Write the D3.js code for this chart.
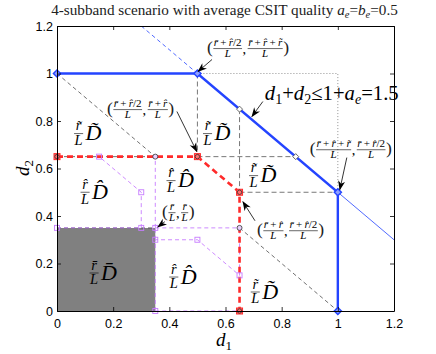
<!DOCTYPE html>
<html><head><meta charset="utf-8">
<script src="https://cdn.jsdelivr.net/npm/d3@7"></script>
<style>body{margin:0;background:#fff}svg{display:block}</style>
</head><body>
<svg id="c" width="436" height="354"></svg>
<script>
// ---------- data ----------
const xTicks = [0, 0.2, 0.4, 0.6, 0.8, 1, 1.2];
const yTicks = [0, 0.2, 0.4, 0.6, 0.8, 1, 1.2];
const tickLabels = ["0", "0.2", "0.4", "0.6", "0.8", "1", "1.2"];
const domainMax = 1.2;

const blueBoundary = [[0, 1], [0.5, 1], [1, 0.5], [1, 0]];
const blueExtUpper = [[0.3, 1.2], [0.5, 1]];
const blueExtLower = [[1, 0.5], [1.2, 0.3]];
const redBoundary = [[0, 0.65], [0.5, 0.65], [0.65, 0.5], [0.65, 0]];
const grayRegion = [[0, 0], [0.35, 0], [0.35, 0.35], [0, 0.35]];
const blackDashed = [
  [[0, 1], [0.35, 0.65]],
  [[0.65, 0.35], [1, 0]],
  [[0, 0.35], [0.35, 0.35]],
  [[0, 0.65], [0.35, 0.65]]
];
const grayDashed = [
  [[0.5, 1], [0.5, 0.65]],
  [[0.5, 0.65], [0.85, 0.65]],
  [[0.65, 0.85], [0.65, 0.5]],
  [[0.65, 0.5], [1, 0.5]]
];
const grayDotted = [[0.5, 1], [1, 1], [1, 0.5]];
const purpleLines = [
  [[0, 0.35], [0.3, 0.35], [0.3, 0.5], [0.15, 0.65]],
  [[0.35, 0], [0.35, 0.3], [0.5, 0.3], [0.65, 0.15]],
  [[0.35, 0.35], [0.65, 0.35]],
  [[0.35, 0.35], [0.35, 0.65]],
  [[0.35, 0], [0.65, 0]],
  [[0, 0.35], [0, 0.65]],
  [[0.35, 0.3], [0.35, 0.35]],
  [[0.65, 0.15], [0.65, 0.35]]
];
const purpleSquares = [[0, 0.35], [0.3, 0.35], [0.3, 0.5], [0.15, 0.65], [0.35, 0.35],
  [0.35, 0], [0.35, 0.3], [0.5, 0.3], [0.65, 0.15]];
const blackDiamonds = [[0.65, 0.85], [0.85, 0.65]];
const cornerCircles = [[0.35, 0.65], [0.65, 0.35]];

// region labels: accent kind, anchor (data coords)
const regionLabels = [
  { acc: "tilde", at: [0.077, 0.747] },
  { acc: "hat",   at: [0.10, 0.50] },
  { acc: "bar",   at: [0.132, 0.16] },
  { acc: "hat",   at: [0.406, 0.549] },
  { acc: "tilde", at: [0.536, 0.747] },
  { acc: "tilde", at: [0.70, 0.57] },
  { acc: "hat",   at: [0.416, 0.143] },
  { acc: "tilde", at: [0.706, 0.08] }
];

const B = "r\u0304", H = "r\u0302", T = "r\u0303";
const annotations = [
  { fr: [[B + "\u2009+\u2009" + H + "/2", "L"], [B + "\u2009+\u2009" + H + "\u2009+\u2009" + T, "L"]],
    at: [0.534, 1.105], tail: [0.552, 1.059], tip: [0.502, 1.008] },
  { fr: [[B + "\u2009+\u2009" + H + "/2", "L"], [B + "\u2009+\u2009" + H, "L"]],
    at: [0.178, 0.848], tail: [0.427, 0.840], tip: [0.498, 0.671] },
  { fr: [[B + "\u2009+\u2009" + H + "\u2009+\u2009" + T, "L"], [B + "\u2009+\u2009" + H + "/2", "L"]],
    at: [0.90, 0.679], tail: [1.032, 0.646], tip: [1.007, 0.511] },
  { fr: [[B, "L"], [B, "L"]],
    at: [0.374, 0.414], tail: [0.384, 0.376], tip: [0.359, 0.354] },
  { fr: [[B + "\u2009+\u2009" + H, "L"], [B + "\u2009+\u2009" + H + "/2", "L"]],
    at: [0.712, 0.338], tail: [0.705, 0.380], tip: [0.662, 0.46] }
];
const boundAnnot = { at: [0.74, 0.89], tail: [0.733, 0.882], tip: [0.694, 0.819] };

// ---------- layout ----------
const svg = d3.select("#c");
const X0 = 57, X1 = 394, Y0 = 311, Y1 = 26;
const x = d3.scaleLinear().domain([0, domainMax]).range([X0, X1]);
const y = d3.scaleLinear().domain([0, domainMax]).range([Y0, Y1]);
const SERIF = "'Liberation Serif', 'DejaVu Serif', serif";
const SANS = "'Liberation Sans', Arial, sans-serif";
const BLUE = "#2444ff", RED = "#ff2a2a", PURPLE = "#c77dff";

const defs = svg.append("defs");
defs.append("clipPath").attr("id", "clip").append("rect")
  .attr("x", X0).attr("y", Y1).attr("width", X1 - X0).attr("height", Y0 - Y1);
defs.append("marker").attr("id", "arr").attr("viewBox", "0 -5 12 10")
  .attr("refX", 11).attr("refY", 0).attr("markerWidth", 10).attr("markerHeight", 8)
  .attr("markerUnits", "userSpaceOnUse").attr("orient", "auto")
  .append("path").attr("d", "M0,-4.5L12,0L0,4.5L3.5,0Z").attr("fill", "#000");

const line = d3.line().x(d => x(d[0])).y(d => y(d[1]));
const plot = svg.append("g").attr("clip-path", "url(#clip)");

// gray region
plot.append("path").attr("d", line(grayRegion) + "Z").attr("fill", "#808080");

// thin lines
blackDashed.forEach(s => plot.append("path").attr("d", line(s)).attr("fill", "none")
  .attr("stroke", "#333").attr("stroke-width", 0.7).attr("stroke-dasharray", "4,3"));
grayDashed.forEach(s => plot.append("path").attr("d", line(s)).attr("fill", "none")
  .attr("stroke", "#555").attr("stroke-width", 0.8).attr("stroke-dasharray", "5,3"));
plot.append("path").attr("d", line(grayDotted)).attr("fill", "none")
  .attr("stroke", "#777").attr("stroke-width", 0.8).attr("stroke-dasharray", "1,2");
purpleLines.forEach(s => plot.append("path").attr("d", line(s)).attr("fill", "none")
  .attr("stroke", PURPLE).attr("stroke-width", 0.9).attr("stroke-dasharray", "4,3"));
plot.append("path").attr("d", line(blueExtUpper)).attr("fill", "none")
  .attr("stroke", BLUE).attr("stroke-width", 0.8).attr("stroke-dasharray", "4,3");
plot.append("path").attr("d", line(blueExtLower)).attr("fill", "none")
  .attr("stroke", BLUE).attr("stroke-width", 0.8);

// red boundary
plot.append("path").attr("d", line(redBoundary)).attr("fill", "none")
  .attr("stroke", RED).attr("stroke-width", 2.6).attr("stroke-dasharray", "6,4");
// blue boundary
plot.append("path").attr("d", line(blueBoundary)).attr("fill", "none")
  .attr("stroke", BLUE).attr("stroke-width", 2.4);

// markers
const mk = svg.append("g");
purpleSquares.forEach(p => mk.append("rect").attr("x", x(p[0]) - 2.5).attr("y", y(p[1]) - 2.5)
  .attr("width", 5).attr("height", 5).attr("fill", "none").attr("stroke", PURPLE).attr("stroke-width", 0.9));
redBoundary.forEach(p => {
  mk.append("rect").attr("x", x(p[0]) - 3).attr("y", y(p[1]) - 3).attr("width", 6).attr("height", 6)
    .attr("fill", "#ff7070").attr("stroke", RED).attr("stroke-width", 1);
  mk.append("circle").attr("cx", x(p[0])).attr("cy", y(p[1])).attr("r", 2.2)
    .attr("fill", "none").attr("stroke", "#222").attr("stroke-width", 0.7);
});
cornerCircles.forEach(p => mk.append("circle").attr("cx", x(p[0])).attr("cy", y(p[1])).attr("r", 2.5)
  .attr("fill", "#e8d0ff").attr("stroke", "#333").attr("stroke-width", 0.8));
const diamond = (p, r) => `M${x(p[0])},${y(p[1]) - r}L${x(p[0]) + r},${y(p[1])}L${x(p[0])},${y(p[1]) + r}L${x(p[0]) - r},${y(p[1])}Z`;
blackDiamonds.forEach(p => mk.append("path").attr("d", diamond(p, 3)).attr("fill", "#fff")
  .attr("stroke", "#444").attr("stroke-width", 0.8));
blueBoundary.forEach(p => mk.append("path").attr("d", diamond(p, 3.6)).attr("fill", "#8fa0ff")
  .attr("stroke", BLUE).attr("stroke-width", 1.4));

// axes (frame + inward ticks)
const fmt = (d) => tickLabels[xTicks.indexOf(d)];
const axB = d3.axisBottom(x).tickValues(xTicks).tickFormat(fmt).tickSizeInner(-4).tickSizeOuter(0).tickPadding(8);
const axT = d3.axisTop(x).tickValues(xTicks).tickFormat("").tickSizeInner(-4).tickSizeOuter(0);
const axL = d3.axisLeft(y).tickValues(yTicks).tickFormat((d) => tickLabels[yTicks.indexOf(d)]).tickSizeInner(-4).tickSizeOuter(0).tickPadding(4);
const axR = d3.axisRight(y).tickValues(yTicks).tickFormat("").tickSizeInner(-4).tickSizeOuter(0);
[[axB, `translate(0,${Y0})`], [axT, `translate(0,${Y1})`], [axL, `translate(${X0},0)`], [axR, `translate(${X1},0)`]]
  .forEach(([a, t]) => {
    const g = svg.append("g").attr("transform", t).call(a);
    g.selectAll("path.domain").attr("stroke", "#000").attr("stroke-width", 1);
    g.selectAll(".tick line").attr("stroke", "#000").attr("stroke-width", 0.8);
    g.selectAll(".tick text").attr("fill", "#000").style("font-family", SANS).style("font-size", "12.5px");
  });

// ---------- math text helpers ----------
function rich(sel, s) {
  const runs = s.match(/[A-Za-z][\u0300-\u036f]*|[^A-Za-z]+/g) || [];
  runs.forEach(r => sel.append("tspan").style("font-style", /^[A-Za-z]/.test(r) ? "italic" : "normal").text(r));
  return sel;
}
function frac(g, cx, barY, num, den, fs, anchorLeft) {
  const n = rich(g.append("text").attr("y", barY - fs * 0.22).attr("text-anchor", "middle")
    .style("font-family", SERIF).style("font-size", fs + "px"), num);
  const d = rich(g.append("text").attr("y", barY + fs * 0.78).attr("text-anchor", "middle")
    .style("font-family", SERIF).style("font-size", fs + "px"), den);
  const w = Math.max(n.node().getComputedTextLength(), d.node().getComputedTextLength()) + 1;
  const c = anchorLeft ? cx + w / 2 : cx;
  n.attr("x", c); d.attr("x", c);
  g.append("line").attr("x1", c - w / 2).attr("x2", c + w / 2).attr("y1", barY).attr("y2", barY)
    .attr("stroke", "#000").attr("stroke-width", 0.6);
  return w;
}
function fitWidth(t, target) {
  const w = t.node().getComputedTextLength();
  const fs = parseFloat(t.style("font-size"));
  t.style("font-size", (fs * target / w) + "px");
  t.selectAll("tspan").each(function () {
    const s = this.style.fontSize;
    if (s) d3.select(this).style("font-size", (parseFloat(s) * target / w) + "px");
  });
}

// region labels
const accChar = { tilde: "\u0303", hat: "\u0302", bar: "\u0304" };
const rl = svg.append("g");
regionLabels.forEach(l => {
  const cx = x(l.at[0]), by = y(l.at[1]);
  frac(rl, cx, by, "r" + accChar[l.acc], "L", 14.5, false);
  rl.append("text").attr("x", cx + 7).attr("y", by + 6.5)
    .style("font-family", SERIF).style("font-size", "22px").style("font-style", "italic")
    .text("D" + accChar[l.acc]);
});

// annotations with arrows
const an = svg.append("g");
annotations.forEach(a => {
  const fs = 11;
  let cx = x(a.at[0]);
  const by = y(a.at[1]);
  const pfs = fs * 1.6;
  const lp = an.append("text").attr("x", cx).attr("y", by + pfs * 0.27)
    .style("font-family", SERIF).style("font-size", pfs + "px").attr("fill", "#222").text("(");
  cx += lp.node().getComputedTextLength() + 0.5;
  a.fr.forEach((f, i) => {
    const w = frac(an, cx, by, f[0], f[1], fs, true);
    cx += w + 0.5;
    if (i < a.fr.length - 1) {
      const cm = an.append("text").attr("x", cx).attr("y", by + fs * 0.5)
        .style("font-family", SERIF).style("font-size", (fs * 1.3) + "px").text(",");
      cx += cm.node().getComputedTextLength() + 1.5;
    }
  });
  an.append("text").attr("x", cx).attr("y", by + pfs * 0.27)
    .style("font-family", SERIF).style("font-size", pfs + "px").attr("fill", "#222").text(")");
  an.append("line").attr("x1", x(a.tail[0])).attr("y1", y(a.tail[1]))
    .attr("x2", x(a.tip[0])).attr("y2", y(a.tip[1]))
    .attr("stroke", "#000").attr("stroke-width", 0.8).attr("marker-end", "url(#arr)");
});

// boundary annotation d1+d2<=1+ae=1.5
{
  const t = an.append("text").attr("x", x(boundAnnot.at[0])).attr("y", y(boundAnnot.at[1]))
    .style("font-family", SERIF).style("font-size", "19px");
  t.append("tspan").style("font-style", "italic").text("d");
  t.append("tspan").attr("dy", 4).style("font-size", "13px").text("1");
  t.append("tspan").attr("dy", -4).text("+");
  t.append("tspan").style("font-style", "italic").text("d");
  t.append("tspan").attr("dy", 4).style("font-size", "13px").text("2");
  t.append("tspan").attr("dy", -4).text("\u2264" + "1+");
  t.append("tspan").style("font-style", "italic").text("a");
  t.append("tspan").attr("dy", 4).style("font-size", "13px").style("font-style", "italic").text("e");
  t.append("tspan").attr("dy", -4).text("=1.5");
  fitWidth(t, 134);
  an.append("line").attr("x1", x(boundAnnot.tail[0])).attr("y1", y(boundAnnot.tail[1]))
    .attr("x2", x(boundAnnot.tip[0])).attr("y2", y(boundAnnot.tip[1]))
    .attr("stroke", "#000").attr("stroke-width", 0.8).attr("marker-end", "url(#arr)");
}

// title
{
  const t = svg.append("text").attr("x", 224.5).attr("y", 15).attr("text-anchor", "middle")
    .style("font-family", SERIF).style("font-size", "14.5px").attr("fill", "#222");
  t.append("tspan").text("4-subband scenario with average CSIT quality ");
  t.append("tspan").style("font-style", "italic").text("a");
  t.append("tspan").attr("dy", 3).style("font-size", "10px").style("font-style", "italic").text("e");
  t.append("tspan").attr("dy", -3).text("=");
  t.append("tspan").style("font-style", "italic").text("b");
  t.append("tspan").attr("dy", 3).style("font-size", "10px").style("font-style", "italic").text("e");
  t.append("tspan").attr("dy", -3).text("=0.5");
  fitWidth(t, 347);
}

// axis labels
{
  const t = svg.append("text").attr("x", 224).attr("y", 346).attr("text-anchor", "middle")
    .style("font-family", SERIF).style("font-size", "19px");
  t.append("tspan").style("font-style", "italic").text("d");
  t.append("tspan").attr("dy", 4).style("font-size", "13px").text("1");
  const u = svg.append("text").attr("transform", "translate(29,168) rotate(-90)").attr("text-anchor", "middle")
    .style("font-family", SERIF).style("font-size", "19px");
  u.append("tspan").style("font-style", "italic").text("d");
  u.append("tspan").attr("dy", 4).style("font-size", "13px").text("2");
}
</script>
</body></html>
